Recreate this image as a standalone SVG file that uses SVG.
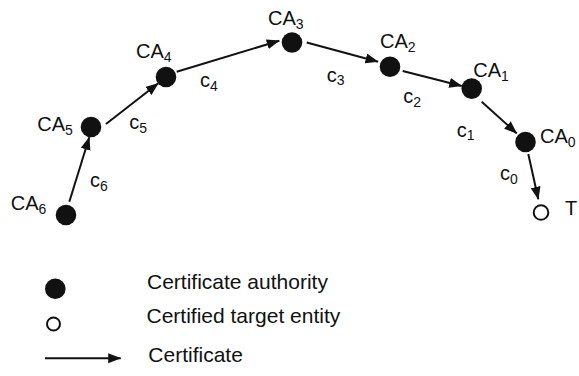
<svg xmlns="http://www.w3.org/2000/svg" width="579" height="376" viewBox="0 0 579 376">
<style>
text{font-family:"Liberation Sans",Arial,sans-serif;fill:#111}
.lab{font-size:20px}
.leg{font-size:21px}
.sub{font-size:14px}
.ca{fill:#111}
.tg{fill:#fff;stroke:#111;stroke-width:2}
.arr{stroke:#111;stroke-width:2;fill:none;marker-end:url(#ah)}
</style>
<defs>
<marker id="ah" markerUnits="userSpaceOnUse" markerWidth="14" markerHeight="11" refX="12.5" refY="5" orient="auto">
<path d="M0,0 L13,5 L0,10 z" fill="#111"/>
</marker>
</defs>
<g id="connectors">
<line class="arr" x1="69.3" y1="201.7" x2="89.3" y2="137.3"/>
<line class="arr" x1="106" y1="124" x2="158.3" y2="83.3"/>
<line class="arr" x1="176.7" y1="71.7" x2="279.3" y2="40.7"/>
<line class="arr" x1="306.7" y1="42.5" x2="378" y2="61.7"/>
<line class="arr" x1="402.7" y1="71" x2="461.7" y2="86"/>
<line class="arr" x1="481.7" y1="101.7" x2="516.7" y2="133.3"/>
<line class="arr" x1="528.3" y1="154" x2="538.3" y2="199.3"/>
<text class="lab" x="90" y="187.3">c<tspan class="sub" dy="3.5">6</tspan></text>
<text class="lab" x="129.3" y="129.3">c<tspan class="sub" dy="3.5">5</tspan></text>
<text class="lab" x="200" y="87.3">c<tspan class="sub" dy="3.5">4</tspan></text>
<text class="lab" x="326.7" y="81.7">c<tspan class="sub" dy="3.5">3</tspan></text>
<text class="lab" x="403.3" y="103.3">c<tspan class="sub" dy="3.5">2</tspan></text>
<text class="lab" x="456.7" y="136.7">c<tspan class="sub" dy="3.5">1</tspan></text>
<text class="lab" x="500" y="180">c<tspan class="sub" dy="3.5">0</tspan></text>
</g>
<g id="CA6"><circle class="ca" cx="66" cy="215" r="10.3"/><text class="lab" x="10.7" y="210">CA<tspan class="sub" dy="4">6</tspan></text></g>
<g id="CA5"><circle class="ca" cx="91" cy="127" r="10.3"/><text class="lab" x="37.3" y="130.7">CA<tspan class="sub" dy="4">5</tspan></text></g>
<g id="CA4"><circle class="ca" cx="166" cy="77" r="10.3"/><text class="lab" x="136" y="58.3">CA<tspan class="sub" dy="4">4</tspan></text></g>
<g id="CA3"><circle class="ca" cx="292" cy="42.5" r="10.3"/><text class="lab" x="268" y="25">CA<tspan class="sub" dy="4">3</tspan></text></g>
<g id="CA2"><circle class="ca" cx="390" cy="66.7" r="10.3"/><text class="lab" x="380" y="48.3">CA<tspan class="sub" dy="4">2</tspan></text></g>
<g id="CA1"><circle class="ca" cx="471.7" cy="88.6" r="10.3"/><text class="lab" x="473.3" y="76.7">CA<tspan class="sub" dy="4">1</tspan></text></g>
<g id="CA0"><circle class="ca" cx="525.5" cy="142" r="10.3"/><text class="lab" x="540" y="143.3">CA<tspan class="sub" dy="4">0</tspan></text></g>
<g id="T"><circle class="tg" cx="541" cy="212.5" r="7.3"/><text class="lab" x="565" y="215">T</text></g>
<g id="legend">
<circle class="ca" cx="55.3" cy="288.8" r="10.3"/>
<text class="leg" x="147" y="289">Certificate authority</text>
<circle class="tg" cx="53.5" cy="324" r="6.5"/>
<text class="leg" x="146.5" y="323.3">Certified target entity</text>
<line class="arr" x1="45" y1="358.3" x2="120.7" y2="358.3"/>
<text class="leg" x="148.3" y="361.7">Certificate</text>
</g>
</svg>
